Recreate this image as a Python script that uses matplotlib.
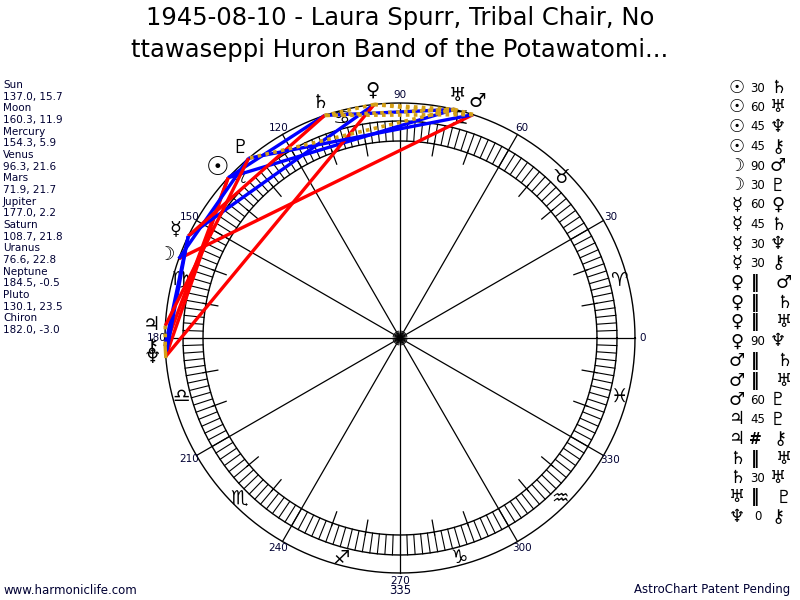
import numpy as np
import matplotlib
matplotlib.use('Agg')
import matplotlib.pyplot as plt

# ---------------- data ----------------
planets = ['Sun', 'Moon', 'Mercury', 'Venus', 'Mars', 'Jupiter', 'Saturn',
           'Uranus', 'Neptune', 'Pluto', 'Chiron']
glyphs = ['☉', '☽', '☿', '♀', '♂', '♃', '♄', '♅', '♆', '♇', '⚷']
lon = [137.0, 160.3, 154.3, 96.3, 71.9, 177.0, 108.7, 76.6, 184.5, 130.1, 182.0]
decl = [15.7, 11.9, 5.9, 21.6, 21.7, 2.2, 21.8, 22.8, -0.5, 23.5, -3.0]

asp_a = ['Sun', 'Sun', 'Sun', 'Sun', 'Moon', 'Moon', 'Mercury', 'Mercury',
         'Mercury', 'Mercury', 'Venus', 'Venus', 'Venus', 'Venus', 'Mars',
         'Mars', 'Mars', 'Jupiter', 'Jupiter', 'Saturn', 'Saturn', 'Uranus',
         'Neptune']
asp_k = ['30', '60', '45', '45', '90', '30', '60', '45', '30', '30', 'P', 'P',
         'P', '90', 'P', 'P', '60', '45', 'CP', 'P', '30', 'P', '0']
asp_b = ['Saturn', 'Uranus', 'Neptune', 'Chiron', 'Mars', 'Pluto', 'Venus',
         'Saturn', 'Neptune', 'Chiron', 'Mars', 'Saturn', 'Uranus', 'Neptune',
         'Saturn', 'Uranus', 'Pluto', 'Pluto', 'Chiron', 'Uranus', 'Uranus',
         'Pluto', 'Chiron']

signs = ['♈', '♉', '♊', '♋', '♌', '♍', '♎', '♏', '♐', '♑', '♒', '♓']
deg_labels = [0, 30, 60, 90, 120, 150, 180, 210, 240, 270, 300, 330]

title_lines = ["1945-08-10 - Laura Spurr, Tribal Chair, No",
               "ttawaseppi Huron Band of the Potawatomi..."]

# ---------------- figure ----------------
fig = plt.figure(figsize=(8, 6), dpi=100)
ax = fig.add_axes([0, 0, 1, 1])
ax.set_xlim(0, 800)
ax.set_ylim(600, 0)
ax.axis('off')

CX, CY = 400, 338
R_OUT, R_B2, R_B1 = 235, 217, 197
ink = '#000033'


def pol(r, d):
    t = np.radians(d)
    return CX + r * np.cos(t), CY - r * np.sin(t)


th = np.linspace(0, 360, 721)
for r in (R_OUT, R_B2, R_B1):
    x, y = pol(r, th)
    ax.plot(x, y, color='black', lw=1.0, zorder=2)

# band hatching every 2 degrees
for d in np.arange(0, 360, 2):
    x, y = pol(np.array([R_B1, R_B2]), d)
    ax.plot(x, y, color='black', lw=0.8, zorder=2)

# 10 degree ticks
for d in np.arange(0, 360, 10):
    if d % 30 == 0:
        x, y = pol(np.array([0, R_OUT]), d)
        ax.plot(x, y, color='black', lw=0.9, zorder=2)
    else:
        x, y = pol(np.array([185, 200]), d)
        ax.plot(x, y, color='black', lw=0.9, zorder=2)
        x, y = pol(np.array([0, 7]), d)
        ax.plot(x, y, color='black', lw=0.7, zorder=2)

for d in deg_labels:
    x, y = pol(243, d)
    ax.text(x, y, str(d), fontsize=7.5, color=ink, ha='center', va='center', zorder=3)

for i, s in enumerate(signs):
    x, y = pol(227, 15 + 30 * i)
    ax.text(x, y, s, fontsize=14, color='black', ha='center', va='center', zorder=3)

# aspect lines
idx = {p: i for i, p in enumerate(planets)}
for a, k, b in zip(asp_a, asp_k, asp_b):
    x1, y1 = pol(R_OUT, lon[idx[a]])
    x2, y2 = pol(R_OUT, lon[idx[b]])
    if k in ('30', '60'):
        ax.plot([x1, x2], [y1, y2], color='#0000ff', lw=2.4, zorder=4,
                solid_capstyle='butt')
    elif k in ('45', '90'):
        ax.plot([x1, x2], [y1, y2], color='#ff0000', lw=2.4, zorder=4,
                solid_capstyle='butt')
    elif k == '0':
        ax.plot([x1, x2], [y1, y2], color='#d4a017', lw=2.4, zorder=4)
    else:
        ax.plot([x1, x2], [y1, y2], color='#d4a017', lw=2.6, zorder=5,
                linestyle=(0, (1, 1.2)))

# planet glyphs
for g, l, p in zip(glyphs, lon, planets):
    x, y = pol(249, l)
    fs = 19 if p == 'Sun' else 14
    ax.text(x, y, g, fontsize=fs, color='black', ha='center', va='center',
            fontweight='bold' if p == 'Sun' else 'normal', zorder=6)

# title
ax.text(400, 18, title_lines[0], fontsize=17.5, ha='center', va='center', color='black')
ax.text(400, 50, title_lines[1], fontsize=17.5, ha='center', va='center', color='black')

# left info column
lines = []
for p, l, d in zip(planets, lon, decl):
    lines.append(p)
    lines.append(f"{l:.1f}, {d:.1f}")
for i, s in enumerate(lines):
    ax.text(3, 85 + i * 11.67, s, fontsize=7.5, color=ink, ha='left', va='center')

# right aspect legend
for i, (a, k, b) in enumerate(zip(asp_a, asp_k, asp_b)):
    y = 88 + i * 19.5
    ax.text(737, y, glyphs[idx[a]], fontsize=13, ha='center', va='center',
            fontweight='bold', color='black')
    if k == 'P':
        ax.text(755, y, '‖', fontsize=12, ha='center', va='center',
                fontweight='bold', color='black')
        ax.text(784, y, glyphs[idx[b]], fontsize=13, ha='center', va='center',
                color='black')
    elif k == 'CP':
        ax.text(755, y, '#', fontsize=11, ha='center', va='center',
                fontweight='bold', color='black')
        ax.text(780, y, glyphs[idx[b]], fontsize=13, ha='center', va='center',
                color='black')
    else:
        ax.text(758, y, k, fontsize=8.5, ha='center', va='center', color='black')
        ax.text(778, y, glyphs[idx[b]], fontsize=13, ha='center', va='center',
                color='black')

# footer
ax.text(3, 590, 'www.harmoniclife.com', fontsize=8.5, ha='left', va='center', color=ink)
ax.text(790, 590, 'AstroChart Patent Pending', fontsize=8.5, ha='right', va='center', color=ink)
ax.text(400, 591, '335', fontsize=8.5, ha='center', va='center', color=ink)

fig.savefig('out.png', dpi=100)
